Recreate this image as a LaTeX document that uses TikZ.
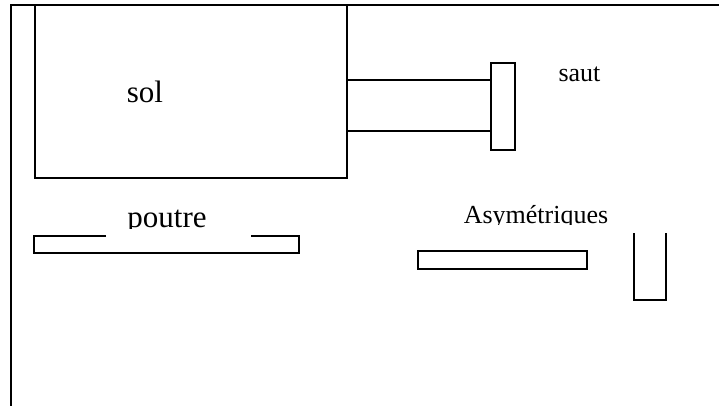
\documentclass[tikz,border=0pt]{standalone}
\usepackage{fontspec}
\setmainfont{Liberation Serif}
\usetikzlibrary{calc}
\tikzset{
  zone/.style={draw, line width=1.5pt, inner sep=0pt, outer sep=0pt},
  agres/.style={draw, line width=1.2pt, inner sep=0pt, outer sep=0pt},
  bigtext/.style={font=\fontsize{31}{36}\selectfont, inner sep=0pt, anchor=base},
  smalltext/.style={font=\fontsize{26}{31}\selectfont, inner sep=0pt, anchor=base},
}
\begin{document}
\begin{tikzpicture}[x=1pt, y=-1pt, line width=1.2pt]
    \useasboundingbox (0,0) rectangle (719,406);
    % cadre
    \draw[line width=1.5pt] (11,406) -- (11,5) -- (719,5);
    % sol
    \node[zone, minimum width=312pt, minimum height=173pt] (sol) at (191,91.5) {};
    \node[bigtext] (soltext) at (145,103) {sol};
    % saut
    \node[agres, minimum width=24pt, minimum height=87pt] (saut) at (503,106.5) {};
    \draw ($(sol.north east)+(0,75)$) -- ($(saut.north west)+(0,17)$);
    \draw ($(sol.north east)+(0,126)$) -- ($(saut.north west)+(0,68)$);
    \node[smalltext] (sauttext) at (579.5,82) {saut};
    % poutre
    \draw (106,236) -| (34,253) -| (299,236) -- (251,236);
    \begin{scope}
        \clip (100,190) rectangle (260,228.5);
        \node[bigtext] (poutre) at (167,227) {poutre};
    \end{scope}
    % asymetriques
    \node[agres, minimum width=169pt, minimum height=18pt] (barre) at (502.5,260) {};
    \draw (634,233) |- (666,300) -- (666,233);
    \begin{scope}
        \clip (440,190) rectangle (630,224.5);
        \node[smalltext] (asym) at (536,223) {Asymétriques};
    \end{scope}
\end{tikzpicture}
\end{document}
